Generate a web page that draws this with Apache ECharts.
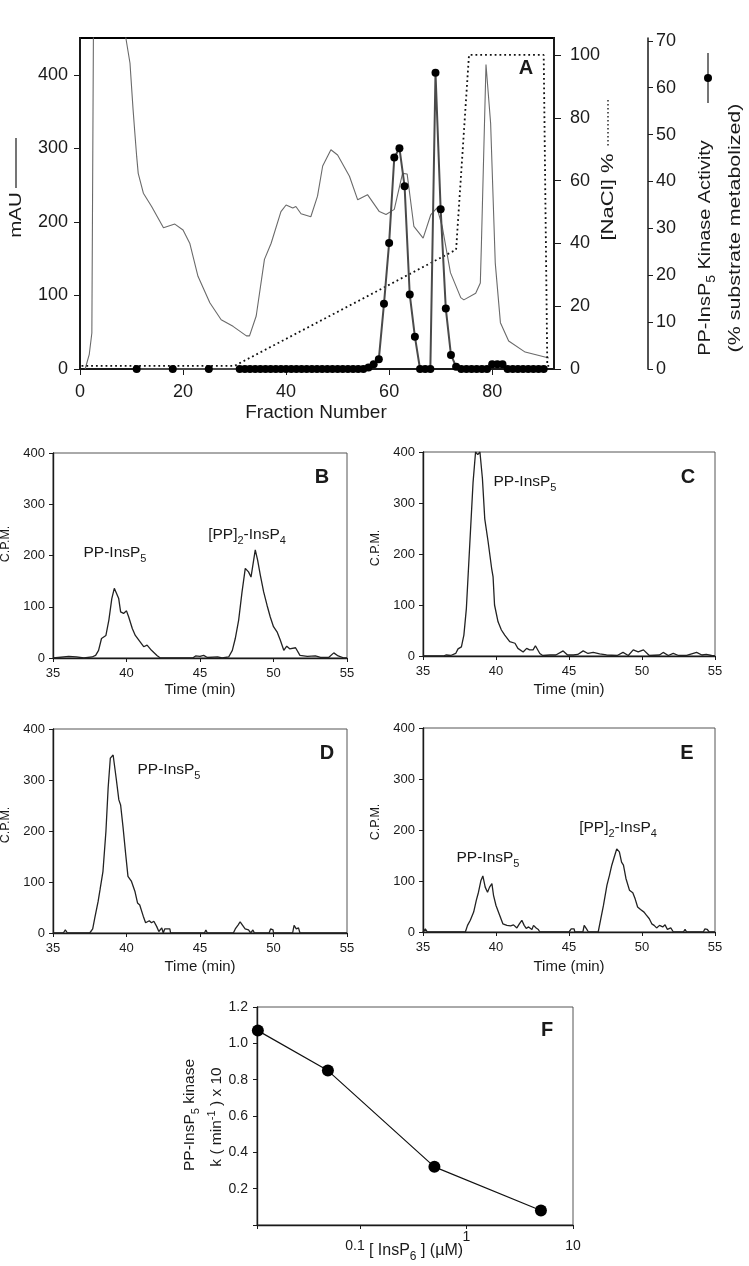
<!DOCTYPE html>
<html><head><meta charset="utf-8">
<script src="https://cdn.jsdelivr.net/npm/echarts@6/dist/echarts.min.js"></script>
<style>html,body{margin:0;padding:0;background:#fff}#c{width:749px;height:1266px}</style>
</head><body><div id="c"></div>
<script>
// ---------- Panel A ----------
const mauFraction = [1, 1.8, 2.3, 2.6, 3, 8.4, 8.9, 9.7,
  10.3, 10.6, 11, 11.3, 12.3, 13.9, 16.2, 18.4,
  20, 21.3, 22.9, 25.2, 27.4, 29.7, 32.3, 32.9,
  34.2, 35.8, 37.1, 39, 40, 41.3, 41.9, 42.9,
  44.8, 46.1, 47.1, 48.7, 50, 52.3, 53.9, 55.8,
  58.1, 59.4, 61, 62.6, 63.5, 64.8, 66.6, 68.1,
  69.3, 70.3, 71.9, 73.9, 74.5, 76.8, 77.7, 77.9,
  78.8, 79.7, 80.6, 81.6, 83.2, 86.4, 91];
const mauValue = [0, 20, 49, 450, 700, 700, 450, 416,
  353, 325, 289, 266, 239, 221, 192, 197,
  189, 171, 126, 90, 67, 58, 45, 45,
  72, 149, 171, 214, 223, 219, 221, 211,
  207, 235, 276, 298, 291, 262, 230, 237,
  214, 210, 217, 266, 265, 194, 178, 210,
  219, 194, 131, 97, 94, 103, 117, 167,
  414, 334, 144, 63, 38, 23, 15];
const naclFraction = [0.3, 30, 73, 75.5, 90, 90.7, 91.5];
const naclPercent = [1, 1, 38, 100, 100, 1, 1];
const activityFraction = [11, 18, 25,
  31, 32, 33, 34, 35, 36, 37, 38, 39, 40,
  41, 42, 43, 44, 45, 46, 47, 48, 49, 50,
  51, 52, 53, 54, 55, 56, 57, 58, 59, 60,
  61, 62, 63, 64, 65, 66, 67, 68, 69, 70,
  71, 72, 73, 74, 75, 76, 77, 78, 79, 80,
  81, 82, 83, 84, 85, 86, 87, 88, 89, 90];
const activityValue = [0, 0, 0,
  0, 0, 0, 0, 0, 0, 0, 0, 0, 0,
  0, 0, 0, 0, 0, 0, 0, 0, 0, 0,
  0, 0, 0, 0, 0, 0.3, 1, 2.1, 13.9, 26.9,
  45.1, 47.1, 39.0, 15.9, 6.9, 0, 0, 0, 63.2, 34.1,
  12.9, 3.0, 0.5, 0, 0, 0, 0, 0, 0, 1,
  1, 1, 0, 0, 0, 0, 0, 0, 0, 0];
const fractionTicks = [0, 20, 40, 60, 80];
const mauTicks = [0, 100, 200, 300, 400];
const naclTicks = [0, 20, 40, 60, 80, 100];
const activityTicks = [0, 10, 20, 30, 40, 50, 60, 70];

// ---------- Panels B-E (C.P.M. vs time) ----------
const bTime = [35, 36.07, 36.6, 37.1, 37.65, 37.9, 38.1, 38.3,
  38.6, 38.8, 39.0, 39.17, 39.3, 39.47, 39.6, 39.8,
  40.0, 40.15, 40.4, 40.6, 40.94, 41.17, 41.4, 41.7,
  42.07, 42.3, 44.5, 44.7, 45.0, 45.25, 45.5, 46.2,
  46.5, 46.95, 47.2, 47.4, 47.63, 47.86, 48.08, 48.3,
  48.47, 48.65, 48.76, 48.92, 49.1, 49.33, 49.56, 49.78,
  50.0, 50.24, 50.46, 50.7, 50.9, 51.1, 51.5, 51.8,
  52.3, 52.85, 53.2, 53.75, 54.1, 54.4, 54.8, 55];
const bCpm = [0, 3, 2, 0, 2, 5, 15, 38,
  44, 74, 116, 136, 137, 116, 90, 87,
  92, 80, 57, 44, 31, 22, 25, 15,
  5, 0, 0, 4, 3, 5, 1, 2,
  0, 2, 15, 38, 74, 129, 175, 168,
  158, 191, 211, 191, 162, 129, 103, 80,
  61, 51, 35, 15, 23, 18, 20, 5,
  3, 4, 1, 1, 10, 4, 0, 0];

const cTime = [35, 36.4, 36.6, 36.9, 37.24, 37.4, 37.63, 37.8,
  37.97, 38.2, 38.43, 38.6, 38.75, 38.9, 39.07, 39.23,
  39.46, 39.7, 39.8, 39.9, 40.14, 40.37, 40.6, 40.94,
  41.3, 41.5, 41.86, 42.1, 42.3, 42.54, 42.7, 43.0,
  43.2, 43.7, 44.1, 44.6, 44.9, 45.3, 45.6, 45.97,
  46.3, 46.66, 47.1, 47.57, 48.3, 48.7, 49.06, 49.4,
  49.74, 50.1, 50.5, 51.2, 51.45, 51.8, 52.14, 52.5,
  53.06, 53.74, 54.1, 54.4, 54.77, 55];
const cCpm = [0, 0, 2, 1, 5, 14, 18, 41,
  93, 217, 341, 400, 395, 400, 348, 269,
  224, 172, 155, 100, 67, 51, 41, 28,
  25, 15, 8, 15, 12, 12, 20, 5,
  1, 2, 2, 10, 2, 2, 3, 10,
  5, 7, 4, 2, 1, 7, 1, 12,
  8, 12, 1, 2, 7, 1, 5, 1,
  1, 7, 2, 3, 1, 0];

const dTime = [35, 35.7, 35.84, 35.98, 37.5, 37.7, 37.84, 38.07,
  38.2, 38.4, 38.6, 38.75, 38.9, 39.09, 39.2, 39.3,
  39.48, 39.6, 39.77, 39.95, 40.1, 40.34, 40.57, 40.75,
  40.9, 41.14, 41.3, 41.55, 41.7, 41.86, 42.05, 42.2,
  42.4, 42.5, 42.6, 42.95, 43.0, 45.3, 45.4, 45.5,
  47.27, 47.4, 47.6, 47.73, 47.9, 48.07, 48.3, 48.45,
  48.6, 48.7, 49.7, 49.8, 49.97, 50.0, 51.3, 51.4,
  51.55, 51.7, 51.8, 55];
const dCpm = [0, 0, 6, 0, 0, 8, 29, 62,
  85, 121, 199, 284, 343, 349, 350, 303,
  261, 251, 206, 153, 111, 101, 82, 59,
  55, 33, 20, 24, 20, 23, 13, 3,
  10, 0, 8, 8, 0, 0, 6, 0,
  0, 8, 16, 22, 15, 8, 6, 0,
  6, 0, 0, 8, 6, 0, 0, 15,
  8, 10, 0, 0];

const eTime = [35, 35.16, 35.3, 37.9, 38.05, 38.24, 38.47, 38.65,
  38.8, 38.97, 39.1, 39.26, 39.42, 39.56, 39.72, 39.83,
  40.0, 40.25, 40.47, 40.75, 41.0, 41.2, 41.43, 41.6,
  41.77, 41.93, 42.07, 42.23, 42.46, 42.57, 42.75, 42.9,
  43.0, 45.0, 45.15, 45.35, 45.4, 45.95, 46.04, 46.2,
  46.33, 47.0, 47.18, 47.36, 47.6, 47.77, 47.93, 48.1,
  48.27, 48.45, 48.6, 48.73, 48.9, 49.14, 49.37, 49.53,
  49.7, 49.9, 50.14, 50.3, 50.5, 50.67, 50.83, 51.0,
  51.2, 51.42, 51.58, 51.74, 51.97, 52.15, 52.83, 52.95,
  53.06, 54.2, 54.3, 54.47, 54.6, 55];
const eCpm = [0, 6, 0, 0, 13, 23, 39, 62,
  78, 101, 110, 88, 78, 88, 95, 72,
  52, 33, 16, 13, 12, 14, 8, 16,
  23, 13, 7, 10, 5, 13, 8, 5,
  0, 0, 6, 6, 0, 0, 13, 6,
  0, 0, 26, 52, 92, 111, 131, 147,
  163, 157, 137, 131, 105, 82, 77, 65,
  49, 44, 39, 33, 26, 16, 13, 8,
  13, 10, 14, 5, 8, 0, 0, 5,
  0, 0, 6, 5, 0, 0];

// ---------- Panel F ----------
const insp6Conc = [0.011, 0.05, 0.5, 5];
const kinaseK = [1.07, 0.85, 0.32, 0.08];

// ---------- helpers ----------
const FF = 'Liberation Sans, Arial, Helvetica, sans-serif';
const INK = '#1a1a1a';
const zip = (xs, ys) => xs.map((x, i) => [x, ys[i]]);
const onStep = step => v => (Math.abs(v / step - Math.round(v / step)) < 1e-6 ? String(Math.round(v * 10) / 10) : '');

function axis(extra, fs, margin, lw, tickLen) {
  const base = {
    type: 'value',
    axisLine: { show: true, onZero: false, lineStyle: { color: INK, width: lw } },
    axisTick: { show: true, inside: false, length: tickLen, lineStyle: { color: INK, width: 1 } },
    axisLabel: { color: INK, fontFamily: FF, fontSize: fs, margin: margin },
    splitLine: { show: false },
    name: ''
  };
  const out = Object.assign({}, base, extra);
  out.axisTick = Object.assign({}, base.axisTick, extra.axisTick || {});
  out.axisLabel = Object.assign({}, base.axisLabel, extra.axisLabel || {});
  out.axisLine = Object.assign({}, base.axisLine, extra.axisLine || {});
  return out;
}

function rich(fs) {
  return {
    n: { fontSize: fs, lineHeight: Math.round(fs * 1.45), fill: INK, fontFamily: FF },
    s: { fontSize: Math.round(fs * 0.72), lineHeight: Math.round(fs * 0.72), verticalAlign: 'bottom', fill: INK, fontFamily: FF },
    p: { fontSize: Math.round(fs * 0.72), lineHeight: Math.round(fs * 0.72), verticalAlign: 'top', fill: INK, fontFamily: FF }
  };
}
function txt(x, y, text, fs, o) {
  o = o || {};
  return {
    type: 'text', x: x, y: y, z: 100,
    rotation: o.rot ? Math.PI / 2 : 0,
    scaleX: o.sx || 1, scaleY: o.sy || 1,
    style: {
      text: text, fill: INK, fontFamily: FF, fontSize: fs,
      fontWeight: o.bold ? 'bold' : 'normal',
      align: o.align || 'center', verticalAlign: 'middle',
      rich: rich(fs)
    }
  };
}

const cpmGrids = [
  { left: 53, top: 453, width: 294, height: 205 },
  { left: 423, top: 452, width: 292, height: 204 },
  { left: 53, top: 729, width: 294, height: 204 },
  { left: 423, top: 728, width: 292, height: 204 }
];
const grids = [
  { left: 80, top: 38, width: 474, height: 331, show: true, borderColor: '#000', borderWidth: 2, outerBoundsMode: 'none' }
].concat(cpmGrids.map(g => Object.assign({ show: true, borderColor: '#555', borderWidth: 1, outerBoundsMode: 'none' }, g)))
 .concat([{ left: 257, top: 1007, width: 316, height: 218, show: true, borderColor: '#555', borderWidth: 1, outerBoundsMode: 'none' }]);

const xAxes = [
  axis({ gridIndex: 0, min: 0, max: 92, interval: 20,
         axisLabel: { customValues: fractionTicks, formatter: onStep(20) },
         axisTick: { customValues: fractionTicks } }, 18, 14, 2, 6)
];
const yAxes = [
  axis({ gridIndex: 0, position: 'left', min: 0, max: 450, interval: 100,
         axisLabel: { customValues: mauTicks, formatter: onStep(100) },
         axisTick: { customValues: mauTicks } }, 18, 12, 2, 6),
  axis({ gridIndex: 0, position: 'right', offset: 0, min: 0, max: 105.4, interval: 20,
         axisLabel: { customValues: naclTicks, formatter: onStep(20) },
         axisTick: { customValues: naclTicks } }, 18, 16, 2, 7),
  axis({ gridIndex: 0, position: 'right', offset: 94, min: 0, max: 70.6, interval: 10,
         axisLabel: { customValues: activityTicks, formatter: onStep(10) },
         axisTick: { customValues: activityTicks } }, 18, 8, 1.5, 5)
];
const series = [
  { type: 'line', xAxisIndex: 0, yAxisIndex: 0, data: zip(mauFraction, mauValue), showSymbol: false,
    lineStyle: { color: '#6a6a6a', width: 1.1 }, clip: true, z: 2 },
  { type: 'line', xAxisIndex: 0, yAxisIndex: 1, data: zip(naclFraction, naclPercent), showSymbol: false,
    lineStyle: { color: '#111', width: 1.8, type: [1.8, 3] }, clip: true, z: 3 },
  { type: 'line', xAxisIndex: 0, yAxisIndex: 2, data: zip(activityFraction, activityValue),
    symbol: 'circle', symbolSize: 8, showSymbol: true,
    itemStyle: { color: '#000' }, lineStyle: { color: '#4a4a4a', width: 2 }, clip: false, z: 4 }
];

const traces = [zip(bTime, bCpm), zip(cTime, cCpm), zip(dTime, dCpm), zip(eTime, eCpm)];
traces.forEach((tr, i) => {
  xAxes.push(axis({ gridIndex: i + 1, min: 35, max: 55, interval: 5 }, 13, 9, 1.4, 4));
  yAxes.push(axis({ gridIndex: i + 1, position: 'left', min: 0, max: 400, interval: 100 }, 13, 8, 1.4, 4));
  series.push({ type: 'line', xAxisIndex: i + 1, yAxisIndex: i + 3, data: tr, showSymbol: false,
    lineStyle: { color: '#222', width: 1.3 }, clip: true });
});

// Panel F
xAxes.push(axis({ gridIndex: 5, type: 'log', logBase: 10, min: 0.0108, max: 10,
  axisLabel: {
    formatter: v => {
      const l = Math.log10(v);
      if (Math.abs(l - Math.round(l)) > 1e-6) return '';
      const r = Math.round(l);
      if (r === -1) return '{a|0.1}';
      if (r === 0) return '{c|1}';
      return '{b|' + String(Math.round(v)) + '}';
    },
    rich: {
      a: { fontSize: 14, fontFamily: FF, color: INK, padding: [9, 10, 0, 0] },
      b: { fontSize: 14, fontFamily: FF, color: INK, padding: [9, 0, 0, 0] },
      c: { fontSize: 14, fontFamily: FF, color: INK, padding: [0, 0, 0, 0] }
    }
  }
}, 14, 5, 1.4, 4));
yAxes.push(axis({ gridIndex: 5, position: 'left', min: 0, max: 1.2, interval: 0.2,
  axisLabel: { formatter: v => (v < 0.05 ? '' : v.toFixed(1)) } }, 14, 9, 1.4, 4));
series.push({ type: 'line', xAxisIndex: 5, yAxisIndex: 7, data: zip(insp6Conc, kinaseK),
  symbol: 'circle', symbolSize: 12, itemStyle: { color: '#000' }, lineStyle: { color: '#111', width: 1.2 }, clip: false });

const graphics = [
  // Panel A titles
  txt(16, 215, '{n|mAU}', 17, { rot: true, sx: 1.2 }),
  { type: 'line', shape: { x1: 16, y1: 138, x2: 16, y2: 188 }, style: { stroke: INK, lineWidth: 1.2 }, z: 100 },
  txt(608, 197, '{n|[NaCl] %}', 17, { rot: true, sx: 1.3 }),
  { type: 'line', shape: { x1: 608, y1: 100, x2: 608, y2: 148 }, style: { stroke: INK, lineWidth: 1.4, lineDash: [1.4, 2.6] }, z: 100 },
  txt(705, 248, '{n|PP-InsP}{s|5}{n| Kinase Activity}', 17, { rot: true, sx: 1.17 }),
  { type: 'line', shape: { x1: 708, y1: 53, x2: 708, y2: 103 }, style: { stroke: INK, lineWidth: 1.2 }, z: 100 },
  { type: 'circle', shape: { cx: 708, cy: 78, r: 4 }, style: { fill: '#000' }, z: 101 },
  txt(735, 228, '{n|(% substrate metabolized)}', 17, { rot: true, sx: 1.26 }),
  txt(316, 413, '{n|Fraction Number}', 19),
  txt(526, 68, 'A', 20, { bold: true }),
  // Panel B
  txt(6, 544, '{n|C.P.M.}', 12.5, { rot: true }),
  txt(200, 690, '{n|Time (min)}', 15),
  txt(322, 477, 'B', 20, { bold: true }),
  txt(115, 553, '{n|PP-InsP}{s|5}', 15.5),
  txt(247, 535, '{n|[PP]}{s|2}{n|-InsP}{s|4}', 15.5),
  // Panel C
  txt(376, 548, '{n|C.P.M.}', 12.5, { rot: true }),
  txt(569, 690, '{n|Time (min)}', 15),
  txt(688, 477, 'C', 20, { bold: true }),
  txt(525, 482, '{n|PP-InsP}{s|5}', 15.5),
  // Panel D
  txt(6, 825, '{n|C.P.M.}', 12.5, { rot: true }),
  txt(200, 967, '{n|Time (min)}', 15),
  txt(327, 753, 'D', 20, { bold: true }),
  txt(169, 770, '{n|PP-InsP}{s|5}', 15.5),
  // Panel E
  txt(376, 822, '{n|C.P.M.}', 12.5, { rot: true }),
  txt(569, 967, '{n|Time (min)}', 15),
  txt(687, 753, 'E', 20, { bold: true }),
  txt(488, 858, '{n|PP-InsP}{s|5}', 15.5),
  txt(618, 828, '{n|[PP]}{s|2}{n|-InsP}{s|4}', 15.5),
  // Panel F
  txt(190, 1115, '{n|PP-InsP}{s|5}{n| kinase}', 15.5, { rot: true }),
  txt(217, 1117, '{n|k ( min}{p|-1}{n| ) x 10}', 15.5, { rot: true }),
  txt(416, 1251, '{n|[ InsP}{s|6}{n| ] (\u00b5M)}', 16),
  txt(547, 1030, 'F', 20, { bold: true })
];

const chart = echarts.init(document.getElementById('c'), null, { renderer: 'canvas' });
chart.setOption({
  animation: false,
  backgroundColor: '#fff',
  textStyle: { fontFamily: FF },
  grid: grids,
  xAxis: xAxes,
  yAxis: yAxes,
  series: series,
  graphic: graphics
});
</script>
</body></html>
